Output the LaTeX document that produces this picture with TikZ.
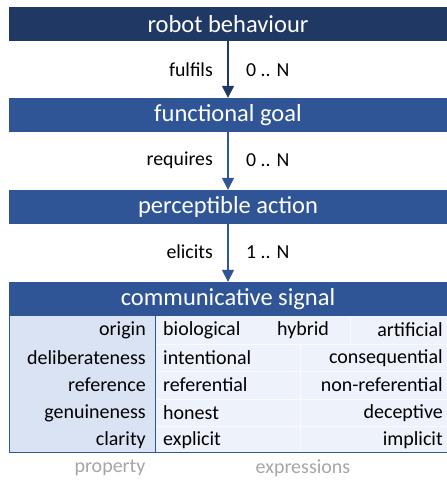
\documentclass[tikz,border=0pt]{standalone}
\usepackage{fontspec}
\setmainfont{Carlito}
\usetikzlibrary{arrows.meta}

\definecolor{navy}{HTML}{203864}
\definecolor{midblue}{HTML}{2F5597}
\definecolor{propfill}{HTML}{DAE3F3}
\definecolor{exprfill}{HTML}{EEF2FA}
\definecolor{captiongray}{HTML}{A6A6A6}

\begin{document}
\begin{tikzpicture}[x=1pt,y=-1pt,
    title/.style={fill=midblue,text=white,minimum width=438pt,minimum height=34pt,
      inner sep=0pt,font=\fontsize{24.5}{28}\selectfont},
    link/.style={midblue,line width=1.5pt,-{Triangle[length=12pt,width=12pt]}},
    rel/.style={font=\fontsize{19.8}{23}\selectfont,inner sep=0pt},
    cell/.style={font=\fontsize{20}{24}\selectfont,inner sep=0pt}]

    \useasboundingbox (0,0) rectangle (447,480);

    \node [title,fill=navy] (rb) at (228,24) {robot behaviour};
    \node [title] (fg) at (228,115) {functional goal};
    \node [title] (pa) at (228,207) {perceptible action};
    \node [title] (cs) at (228,299) {communicative signal};

    \draw [link,navy] (rb) -- (fg);
    \draw [link] (fg) -- (pa);
    \draw [link] (pa) -- (cs);

    \node [rel,anchor=east] (fulfils) at (213,70) {fulfils};
    \node [rel,anchor=west] (n1) at (246,70) {0 .. N};
    \node [rel,anchor=east] (requires) at (213,160) {requires};
    \node [rel,anchor=west] (n2) at (246,160) {0 .. N};
    \node [rel,anchor=east] (elicits) at (213,252) {elicits};
    \node [rel,anchor=west] (n3) at (246,252) {1 .. N};

    % table under the signal
    \fill [exprfill] (155,316) rectangle (447,452);
    \fill [propfill] (9,316) rectangle (155,452);
    \draw [white!60!exprfill,line width=0.5pt] (155,344) -- (447,344) (155,371) -- (447,371)
      (155,399) -- (447,399) (155,426) -- (447,426)
      (350,316) -- (350,344) (300,344) -- (300,452);
    \draw [midblue,line width=1pt] (9,316) -- (9,452) -- (447,452) (155,316) -- (155,452);

    \node [cell,anchor=east] (origin) at (146,330) {origin};
    \node [cell,anchor=east] (delib) at (146,358) {deliberateness};
    \node [cell,anchor=east] (ref) at (146,385) {reference};
    \node [cell,anchor=east] (genu) at (146,413) {genuineness};
    \node [cell,anchor=east] (clar) at (146,440) {clarity};

    \node [cell,anchor=west] (bio) at (163,330) {biological};
    \node [cell,anchor=west] (hyb) at (277,330) {hybrid};
    \node [cell,anchor=east] (art) at (443,330) {artificial};
    \node [cell,anchor=west] (intent) at (163,358) {intentional};
    \node [cell,anchor=east] (conseq) at (443,358) {consequential};
    \node [cell,anchor=west] (referential) at (163,385) {referential};
    \node [cell,anchor=east] (nonref) at (443,385) {non-referential};
    \node [cell,anchor=west] (honest) at (163,413) {honest};
    \node [cell,anchor=east] (decep) at (443,413) {deceptive};
    \node [cell,anchor=west] (expl) at (163,440) {explicit};
    \node [cell,anchor=east] (impl) at (443,440) {implicit};

    \node [cell,text=captiongray] (property) at (110,468) {property};
    \node [cell,text=captiongray] (expressions) at (303,468) {expressions};

\end{tikzpicture}
\end{document}
